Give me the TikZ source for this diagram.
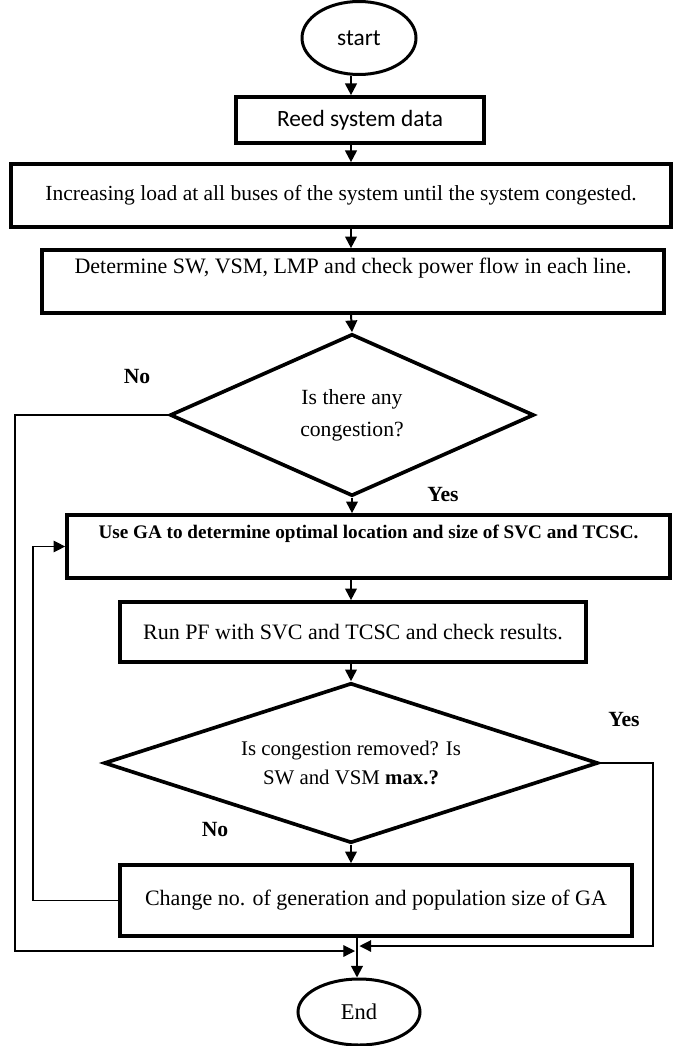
\documentclass[tikz,border=0pt]{standalone}
\usepackage{fontspec}
\setmainfont{Liberation Serif}
\newfontfamily\calibri{Carlito}
\usetikzlibrary{shapes.geometric}
\usetikzlibrary{arrows.meta}

\tikzset{
  box/.style={draw, rectangle, line width=2.2pt, inner sep=0pt, align=center,
    font=\fontsize{13.2}{16}\selectfont},
  oval/.style={draw, ellipse, line width=1.8pt, inner sep=0pt,
    font=\fontsize{13.5}{16}\selectfont},
  decision/.style={draw, diamond, line width=2.2pt, inner sep=0pt, align=center,
    font=\fontsize{13}{15}\selectfont},
  flow/.style={line width=1.2pt, -{Triangle[length=7pt,width=7pt]}},
  back/.style={line width=0.7pt, -{Triangle[length=7pt,width=7pt]}},
  answer/.style={font=\bfseries\fontsize{13}{15}\selectfont},
}

\begin{document}
\begin{tikzpicture}[x=0.6pt, y=-0.6pt]
  \useasboundingbox (0,0) rectangle (683,1046);
  \coordinate (spine) at (351,0);

  \node[oval, minimum width=68.4pt, minimum height=43.8pt, font=\calibri\fontsize{14}{16}\selectfont] (start) at (359,38) {start};
  \node[box, minimum width=148.8pt, minimum height=27.6pt, font=\calibri\fontsize{14}{16}\selectfont] (reed) at (360,120) {Reed system data};
  \node[box, minimum width=396pt, minimum height=37.8pt, font=\fontsize{12.9}{15}\selectfont] (load) at (341,195.5) {Increasing load at all buses of the system until the system congested.};
  \node[box, minimum width=373.2pt, minimum height=37.8pt] (check) at (353,281.5) {Determine SW, VSM, LMP and check power flow in each line.\\[-2pt]\strut};
  \node[decision, aspect=2.25, minimum width=218.4pt, minimum height=97.2pt] (cong) at (352,415) {Is there any\\[4pt]congestion?};
  \node[box, minimum width=361.8pt, minimum height=37.8pt, font=\bfseries\fontsize{11.5}{13.5}\selectfont] (ga) at (368.5,546.5) {Use GA to determine optimal location and size of SVC and TCSC.\\\strut};
  \node[box, minimum width=279.6pt, minimum height=36pt] (pf) at (353,632) {Run PF with SVC and TCSC and check results.};
  \node[decision, aspect=3.09, minimum width=296.4pt, minimum height=96pt, font=\fontsize{12.5}{14.5}\selectfont] (done) at (351,763) {Is congestion removed? Is\\[3pt]SW and VSM \textbf{max.?}};
  \node[box, minimum width=307.2pt, minimum height=42.6pt] (change) at (376,900.5) {Change no. of generation and population size of GA};
  \node[oval, minimum width=73.2pt, minimum height=39.6pt] (end) at (359,1012) {End};

  \node[answer] (no1) at (137,377) {No};
  \node[answer] (yes1) at (443,495) {Yes};
  \node[answer] (yes2) at (624,720) {Yes};
  \node[answer] (no2) at (215,830) {No};

  \coordinate (leftrail) at (15,0);
  \coordinate (looprail) at (33,0);
  \coordinate (rightrail) at (653,0);
  \coordinate (joinL) at (355,951);
  \coordinate (joinR) at (359.5,946);
  \coordinate (drop) at (357,0);

  \draw[flow] (start.south -| spine) -- (reed.north -| spine);
  \draw[flow] (reed.south -| spine) -- (load.north -| spine);
  \draw[flow] (load.south -| spine) -- (check.north -| spine);
  \draw[flow] (check.south -| spine) -- (cong.north);
  \draw[flow] (cong.south) -- (ga.north -| cong.south);
  \draw[flow] (ga.south -| spine) -- (pf.north -| spine);
  \draw[flow] (pf.south -| spine) -- (done.north);
  \draw[flow] (done.south) -- (change.north -| done.south);
  \draw[flow] (change.south -| drop) -- (end.north -| drop);

  \draw[back] (cong.west) -| (leftrail |- joinL) -- (joinL);
  \draw[back] (done.east) -| (rightrail |- joinR) -- (joinR);
  \draw[back] (change.west) -| (looprail |- ga.west) -- (ga.west);
\end{tikzpicture}
\end{document}
